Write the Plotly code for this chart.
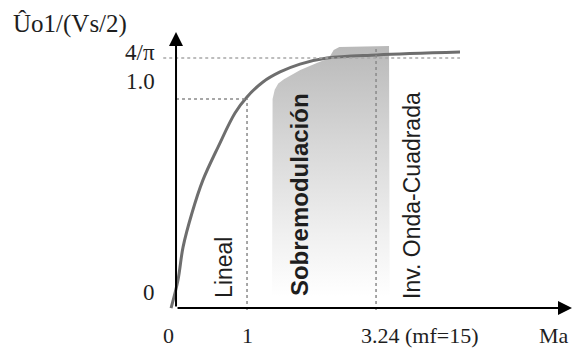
import plotly.graph_objects as go

# ---- data (schematic units: x = Ma, y = Ûo1/(Vs/2)) ----
curve_ma = [-0.07, 0.028, 0.099, 0.225, 0.380, 0.592, 0.831, 1.0, 1.225, 1.465, 1.746, 2.127, 2.831, 4.0]
curve_v = [-0.005, 0.130, 0.288, 0.452, 0.611, 0.769, 0.933, 1.01, 1.082, 1.130, 1.168, 1.197, 1.212, 1.226]

shade_ma = [1.352, 1.352, 1.36, 1.39, 1.44, 1.52, 1.62, 1.75, 2.0, 2.15, 2.22, 2.3, 3.0, 3.01, 1.352]
shade_v = [0.05, 0.94, 1.0, 1.045, 1.075, 1.095, 1.115, 1.14, 1.175, 1.195, 1.235, 1.25, 1.255, 0.05, 0.05]

x_tick_pos = [-0.11, 1.0, 3.44, 5.32]
x_tick_text = ["0", "1", "3.24 (mf=15)", "Ma"]
y_tick_pos = [0.072, 1.086, 1.222]
y_tick_text = ["0", "1.0", "4/π"]
ma_lin = 1.0          # end of linear region
ma_sq = 2.817         # 3.24 marker position (schematic)
v_sq = 1.197          # 4/pi level (schematic)
region_names = ["Lineal", "<b>Sobremodulación</b>", "Inv. Onda-Cuadrada"]
region_x = [0.676, 1.732, 3.324]
region_y = [0.188, 0.538, 0.534]
y_title = "Ûo1/(Vs/2)"

serif = "Liberation Serif, Times New Roman, serif"
sans = "Liberation Sans, Arial, sans-serif"
ink = "#1e1e1e"

fig = go.Figure()

fig.add_trace(go.Scatter(
    x=shade_ma, y=shade_v, mode="lines", fill="toself",
    line=dict(width=0, color="rgba(0,0,0,0)"),
    fillgradient=dict(type="vertical",
                      colorscale=[[0, "#ffffff"], [0.25, "#f0f0f0"], [0.6, "#d8d8d8"], [1, "#b9b9b9"]]),
    hoverinfo="skip", showlegend=False))

fig.add_trace(go.Scatter(
    x=curve_ma, y=curve_v, mode="lines", line=dict(color="#6e6e6e", width=3, shape="spline"),
    showlegend=False))

dot = dict(color="#8a8a8a", width=1.5, dash="dot")
fig.add_shape(type="line", x0=0, x1=ma_lin, y0=1.0, y1=1.0, line=dot)
fig.add_shape(type="line", x0=ma_lin, x1=ma_lin, y0=-0.015, y1=1.0, line=dot)
fig.add_shape(type="line", x0=ma_sq, x1=ma_sq, y0=-0.015, y1=1.245, line=dot)
fig.add_shape(type="line", x0=-0.18, x1=4.0, y0=v_sq, y1=v_sq,
              line=dict(color="#a8a8a8", width=1.5, dash="dot"))

# axes with arrows
fig.add_annotation(x=0, y=1.322, ax=0, ay=-0.005, xref="x", yref="y", axref="x", ayref="y",
                   showarrow=True, arrowhead=2, arrowsize=1.4, arrowwidth=2, arrowcolor="black", text="")
fig.add_annotation(x=5.577, y=-0.005, ax=0, ay=-0.005, xref="x", yref="y", axref="x", ayref="y",
                   showarrow=True, arrowhead=2, arrowsize=1.4, arrowwidth=2, arrowcolor="black", text="")

for xp, t in zip(x_tick_pos, x_tick_text):
    fig.add_annotation(x=xp, y=-0.139, text=t, showarrow=False, xanchor="center", yanchor="middle",
                       font=dict(family=serif, size=22, color=ink))
for yp, t in zip(y_tick_pos, y_tick_text):
    fig.add_annotation(x=-0.27, y=yp, text=t, showarrow=False, xanchor="right", yanchor="middle",
                       font=dict(family=serif, size=23, color=ink))

fig.add_annotation(x=-2.33, y=1.36, text=y_title, showarrow=False, xanchor="left", yanchor="middle",
                   font=dict(family=serif, size=25, color=ink))

for t, xp, yp in zip(region_names, region_x, region_y):
    fig.add_annotation(x=xp, y=yp, text=t, showarrow=False, textangle=-90,
                       xanchor="center", yanchor="middle",
                       font=dict(family=sans, size=24 if "<b>" in t else 23, color=ink))

fig.update_layout(
    width=573, height=349, margin=dict(l=0, r=0, t=0, b=0),
    paper_bgcolor="white", plot_bgcolor="white",
    xaxis=dict(range=[-2.479, 5.591], visible=False, fixedrange=True),
    yaxis=dict(range=[-0.202, 1.476], visible=False, fixedrange=True),
    showlegend=False)

fig.write_html("out.html")
